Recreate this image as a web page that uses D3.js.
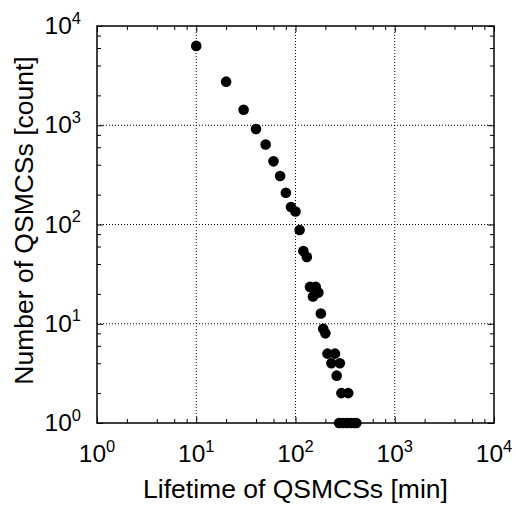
<!DOCTYPE html>
<html>
<head>
<meta charset="utf-8">
<script src="https://cdn.jsdelivr.net/npm/d3@7"></script>
<style>
  html, body { margin: 0; padding: 0; background: #fff; }
  svg { display: block; }
  text { font-family: "Liberation Sans", Arial, Helvetica, sans-serif; fill: #000; }
</style>
</head>
<body>
<svg id="chart" width="516" height="505"></svg>
<script>
// ---- data ----
const lifetimes = [10, 20, 30, 40, 50, 60, 70, 80, 90, 100, 110, 120, 130, 140, 150, 160, 170, 180, 190, 200, 210, 230, 250, 260, 280, 290, 340, 275, 300, 330, 360, 390, 410];
const counts    = [6300, 2750, 1435, 916, 640, 433, 308, 209, 150, 135, 88, 54, 47, 23.5, 18.8, 23.5, 20.6, 12.7, 8.9, 8.0, 5, 4, 5, 3, 4, 2, 2, 1, 1, 1, 1, 1, 1];
const decadeTicks = [1, 10, 100, 1000, 10000];
const decadeExponents = ["0", "1", "2", "3", "4"];
const gridValues = [10, 100, 1000];
const minorMultipliers = [2, 4, 6, 8];
const xTitle = "Lifetime of QSMCSs [min]";
const yTitle = "Number of QSMCSs [count]";

// ---- layout ----
const mLeft = 97, mRight = 494, mTop = 26, mBottom = 423;
const svg = d3.select("#chart");

const x = d3.scaleLog().domain([1, 10000]).range([mLeft, mRight]);
const y = d3.scaleLog().domain([1, 10000]).range([mBottom, mTop]);

const minorTicks = [];
[1, 10, 100, 1000].forEach(d => minorMultipliers.forEach(m => minorTicks.push(d * m)));

// grid
const grid = svg.append("g");
grid.selectAll("line.gx").data(gridValues).join("line").attr("class", "gx")
  .attr("x1", d => x(d)).attr("x2", d => x(d))
  .attr("y1", mTop).attr("y2", mBottom)
  .attr("stroke", "#000").attr("stroke-width", 1).attr("stroke-dasharray", "1,2");
grid.selectAll("line.gy").data(gridValues).join("line").attr("class", "gy")
  .attr("y1", d => y(d)).attr("y2", d => y(d))
  .attr("x1", mLeft).attr("x2", mRight)
  .attr("stroke", "#000").attr("stroke-width", 1).attr("stroke-dasharray", "1,2");

// axes (ticks inside on all four sides)
function addAxis(axisFn, scale, transform, values, size) {
  const g = svg.append("g").attr("transform", transform)
    .call(axisFn(scale).tickValues(values).tickSize(size).tickFormat(""));
  g.select(".domain").remove();
  g.selectAll(".tick line").attr("stroke", "#000").attr("stroke-width", 1);
}
addAxis(d3.axisBottom, x, `translate(0,${mBottom})`, decadeTicks, -6);
addAxis(d3.axisBottom, x, `translate(0,${mBottom})`, minorTicks, -4);
addAxis(d3.axisTop, x, `translate(0,${mTop})`, decadeTicks, -6);
addAxis(d3.axisTop, x, `translate(0,${mTop})`, minorTicks, -4);
addAxis(d3.axisLeft, y, `translate(${mLeft},0)`, decadeTicks, -6);
addAxis(d3.axisLeft, y, `translate(${mLeft},0)`, minorTicks, -4);
addAxis(d3.axisRight, y, `translate(${mRight},0)`, decadeTicks, -6);
addAxis(d3.axisRight, y, `translate(${mRight},0)`, minorTicks, -4);

// frame
svg.append("rect").attr("x", mLeft).attr("y", mTop)
  .attr("width", mRight - mLeft).attr("height", mBottom - mTop)
  .attr("fill", "none").attr("stroke", "#000").attr("stroke-width", 1.5);

// tick labels
function powerLabel(sel, d) {
  sel.text("10");
  sel.append("tspan").attr("dy", -10.5).attr("font-size", 16.5).text(d.e);
}
const labelData = decadeTicks.map((v, i) => ({v, e: decadeExponents[i]}));
svg.append("g").selectAll("text")
  .data(labelData).join("text")
  .attr("x", d => x(d.v)).attr("y", 462)
  .attr("text-anchor", "middle").attr("font-size", 24.5)
  .each(function(d) { powerLabel(d3.select(this), d); });

svg.append("g").selectAll("text")
  .data(labelData).join("text")
  .attr("x", 81).attr("y", d => y(d.v) + 8)
  .attr("text-anchor", "end").attr("font-size", 24.5)
  .each(function(d) { powerLabel(d3.select(this), d); });

// titles
svg.append("text").attr("x", (mLeft + mRight) / 2).attr("y", 498)
  .attr("text-anchor", "middle").attr("font-size", 26.5).text(xTitle);
svg.append("text").attr("transform", `translate(33,${(mTop + mBottom) / 2 - 4}) rotate(-90)`)
  .attr("text-anchor", "middle").attr("font-size", 26.5).text(yTitle);

// points
svg.append("g").selectAll("circle")
  .data(lifetimes.map((t, i) => ({t, c: counts[i]}))).join("circle")
  .attr("cx", d => x(d.t)).attr("cy", d => y(d.c))
  .attr("r", 5.3).attr("fill", "#000");
</script>
</body>
</html>
